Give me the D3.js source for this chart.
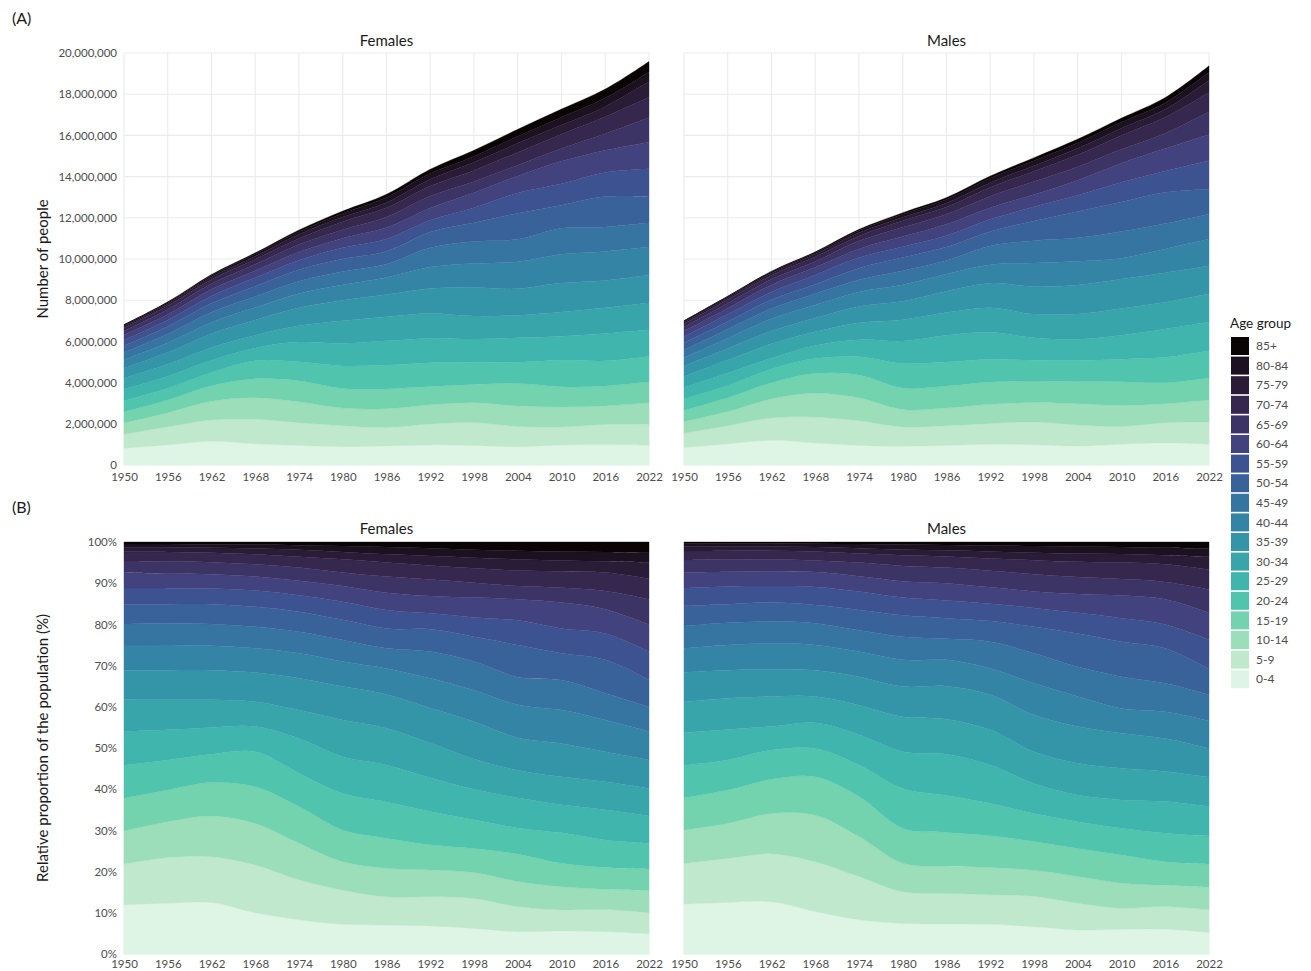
<!DOCTYPE html>
<html>
<head>
<meta charset="utf-8">
<script src="https://cdn.jsdelivr.net/npm/d3@7"></script>
<style>
  body { margin: 0; background: #fff; }
  text { font-family: Lato, "Open Sans", sans-serif; }
</style>
</head>
<body>
<svg id="chart" width="1311" height="971"></svg>
<script>
// Population by five-year age group, 1950-2022 (sampled every six years)
const years = [1950, 1956, 1962, 1968, 1974, 1980, 1986, 1992, 1998, 2004, 2010, 2016, 2022];
const ageGroups = ["0-4", "5-9", "10-14", "15-19", "20-24", "25-29", "30-34", "35-39", "40-44",
                   "45-49", "50-54", "55-59", "60-64", "65-69", "70-74", "75-79", "80-84", "85+"];

// Total population, millions
const femaleTotal = [6.82, 7.92, 9.25, 10.30, 11.41, 12.33, 13.14, 14.36, 15.28, 16.30, 17.28, 18.25, 19.59];
const maleTotal   = [7.01, 8.20, 9.41, 10.35, 11.44, 12.25, 12.98, 14.03, 14.92, 15.82, 16.84, 17.84, 19.38];

// Share of each age group in the total (%), one row per age group, one column per year
const femaleShare = [
  [11.9, 12.3, 12.5, 10.0, 8.3, 7.2, 7.0, 6.8, 6.2, 5.4, 5.6, 5.4, 4.9],
  [9.9, 11.1, 11.1, 11.6, 9.7, 8.3, 6.9, 7.1, 7.3, 6.1, 5.1, 5.4, 5.1],
  [8.1, 8.7, 9.9, 10.1, 8.9, 6.9, 6.9, 6.5, 6.3, 6.1, 5.6, 4.9, 5.4],
  [7.9, 7.7, 8.1, 8.9, 8.9, 7.7, 7.3, 6.1, 5.8, 6.7, 5.7, 5.3, 5.2],
  [8.0, 7.3, 6.9, 8.5, 8.1, 8.9, 8.8, 8.1, 7.0, 6.3, 7.4, 6.7, 6.3],
  [8.2, 7.3, 6.5, 6.1, 8.4, 8.9, 9.0, 8.2, 7.4, 7.3, 6.8, 7.3, 6.6],
  [7.8, 7.3, 6.7, 6.0, 6.9, 8.9, 8.9, 8.4, 7.3, 6.7, 6.8, 6.8, 6.7],
  [7.1, 7.2, 7.2, 7.1, 7.7, 8.1, 8.2, 8.5, 9.1, 7.9, 8.1, 7.3, 6.9],
  [6.1, 6.1, 5.9, 5.9, 6.1, 6.1, 6.3, 7.2, 7.6, 8.0, 8.1, 7.7, 6.9],
  [5.1, 5.3, 5.3, 5.2, 5.2, 5.2, 4.9, 6.5, 7.0, 6.7, 7.3, 6.5, 6.0],
  [4.8, 4.6, 4.8, 4.9, 4.9, 4.9, 4.8, 5.4, 6.0, 7.8, 6.5, 8.1, 6.5],
  [3.9, 3.9, 3.8, 3.9, 4.0, 4.4, 4.5, 3.9, 4.7, 6.0, 6.0, 6.4, 6.9],
  [3.8, 3.5, 3.5, 3.4, 3.5, 3.8, 4.2, 4.2, 4.8, 5.1, 6.3, 5.9, 6.6],
  [2.8, 3.0, 2.9, 3.0, 3.2, 3.3, 3.9, 4.0, 3.6, 3.2, 3.6, 4.4, 6.1],
  [2.2, 2.3, 2.3, 2.4, 2.6, 3.2, 3.4, 3.4, 3.5, 3.8, 4.0, 4.5, 5.0],
  [1.1, 1.1, 1.2, 1.4, 1.7, 1.8, 2.0, 2.3, 2.6, 2.7, 2.6, 2.7, 3.9],
  [0.8, 0.8, 0.8, 1.0, 1.1, 1.4, 1.8, 1.9, 1.9, 2.1, 2.2, 2.3, 2.4],
  [0.5, 0.5, 0.6, 0.6, 0.8, 1.0, 1.2, 1.5, 1.9, 2.1, 2.3, 2.4, 2.6]
];
const maleShare = [
  [12.1, 12.5, 12.7, 10.3, 8.3, 7.4, 7.3, 7.2, 6.6, 5.8, 6.0, 6.0, 5.2],
  [9.9, 10.7, 11.6, 12.1, 10.5, 7.7, 7.4, 7.2, 7.4, 6.5, 5.1, 5.5, 5.5],
  [8.1, 8.5, 9.8, 11.3, 9.7, 6.9, 6.6, 6.6, 6.3, 6.5, 6.1, 5.2, 5.5],
  [7.8, 8.1, 8.3, 9.3, 9.7, 8.5, 8.2, 7.7, 7.0, 6.8, 6.8, 5.7, 5.6],
  [7.9, 7.3, 7.1, 6.9, 7.7, 9.7, 9.0, 7.9, 6.8, 6.5, 6.5, 6.9, 6.8],
  [7.9, 7.4, 5.7, 6.2, 7.3, 8.9, 10.0, 9.3, 7.3, 6.5, 6.9, 7.7, 7.2],
  [7.5, 7.6, 7.3, 6.4, 7.2, 8.5, 8.5, 8.5, 7.7, 7.7, 7.7, 7.3, 7.1],
  [7.2, 6.8, 6.6, 6.4, 6.9, 7.3, 8.0, 8.5, 8.9, 8.9, 8.5, 8.0, 7.0],
  [5.8, 6.1, 6.3, 6.1, 6.1, 6.5, 6.4, 6.4, 7.7, 7.3, 6.0, 6.5, 6.7],
  [5.4, 5.4, 5.3, 5.3, 5.2, 5.6, 5.1, 6.5, 7.3, 7.2, 7.7, 6.9, 6.3],
  [4.9, 4.5, 4.6, 4.4, 4.9, 5.2, 5.0, 5.0, 6.4, 8.1, 8.5, 8.5, 6.2],
  [4.3, 4.3, 4.0, 4.4, 4.5, 4.3, 4.3, 4.2, 4.6, 5.0, 5.7, 5.8, 7.2],
  [3.8, 3.6, 3.6, 3.6, 3.7, 4.0, 4.2, 4.0, 4.0, 4.6, 5.5, 6.1, 6.5],
  [3.0, 3.0, 2.9, 2.8, 3.3, 3.7, 3.8, 4.0, 4.2, 4.1, 4.0, 4.2, 5.7],
  [2.2, 2.1, 2.1, 2.2, 2.2, 2.6, 2.7, 3.0, 3.4, 3.7, 4.0, 4.3, 4.8],
  [1.1, 1.0, 1.0, 1.1, 1.3, 1.4, 1.5, 1.7, 1.8, 2.0, 2.1, 2.2, 3.1],
  [0.8, 0.8, 0.8, 0.8, 1.0, 1.2, 1.3, 1.5, 1.6, 1.7, 1.7, 1.8, 2.0],
  [0.3, 0.3, 0.3, 0.4, 0.5, 0.6, 0.7, 0.8, 1.0, 1.1, 1.2, 1.4, 1.6]
];

// Axis ticks
const xTickYears = [1950, 1956, 1962, 1968, 1974, 1980, 1986, 1992, 1998, 2004, 2010, 2016, 2022];
const countTicks = [0, 2e6, 4e6, 6e6, 8e6, 10e6, 12e6, 14e6, 16e6, 18e6, 20e6];
const pctTicks = [0, 0.1, 0.2, 0.3, 0.4, 0.5, 0.6, 0.7, 0.8, 0.9, 1];

// Mako-style palette, youngest (light) to oldest (dark)
const palette = ["#def5e5", "#bfe8cd", "#9cdeb9", "#72d3ae", "#50c4ad", "#3fb5ad", "#37a5aa",
                 "#3495a8", "#3485a5", "#3674a1", "#39629b", "#3d5290", "#41427e", "#3d3466",
                 "#35274e", "#2a1b36", "#1b1120", "#0b0405"];
const color = d3.scaleOrdinal().domain(ageGroups).range(palette);

// Rows of absolute counts per year
function buildRows(share, total) {
  return years.map((yr, i) => {
    const row = { year: yr };
    ageGroups.forEach((g, j) => { row[g] = share[j][i] / 100 * total[i] * 1e6; });
    return row;
  });
}
const femaleRows = buildRows(femaleShare, femaleTotal);
const maleRows = buildRows(maleShare, maleTotal);

const svg = d3.select("#chart");
const gridColor = "#ebebeb";
const tickColor = "#4d4d4d";
const tickFont = "Lato, 'Open Sans', sans-serif";

const columns = [
  { title: "Females", rows: femaleRows, x0: 124, x1: 649, showY: true },
  { title: "Males", rows: maleRows, x0: 684, x1: 1209, showY: false }
];
const rowsLayout = [
  { tag: "(A)", tagY: 24, top: 53, bottom: 465, titleY: 46, expand: false, xPad: 8 },
  { tag: "(B)", tagY: 513, top: 542, bottom: 954, titleY: 534, expand: true, xPad: 6 }
];

rowsLayout.forEach(R => {
  svg.append("text").attr("x", 12).attr("y", R.tagY)
    .attr("font-size", 16).attr("fill", "#1a1a1a").text(R.tag);

  columns.forEach(C => {
    const x = d3.scaleLinear().domain([1950, 2022]).range([C.x0, C.x1]);
    const y = R.expand
      ? d3.scaleLinear().domain([0, 1]).range([R.bottom, R.top])
      : d3.scaleLinear().domain([0, 20e6]).range([R.bottom, R.top]);
    const yTicks = R.expand ? pctTicks : countTicks;

    const g = svg.append("g");

    // grid
    g.append("g").selectAll("line").data(xTickYears).join("line")
      .attr("x1", d => x(d)).attr("x2", d => x(d))
      .attr("y1", R.top).attr("y2", R.bottom)
      .attr("stroke", gridColor).attr("stroke-width", 1.1);
    g.append("g").selectAll("line").data(yTicks).join("line")
      .attr("x1", C.x0).attr("x2", C.x1)
      .attr("y1", d => y(d)).attr("y2", d => y(d))
      .attr("stroke", gridColor).attr("stroke-width", 1.1);

    // stacked areas
    const stack = d3.stack().keys(ageGroups);
    if (R.expand) stack.offset(d3.stackOffsetExpand);
    const series = stack(C.rows);
    const area = d3.area()
      .x(d => x(d.data.year))
      .y0(d => y(d[0]))
      .y1(d => y(d[1]))
      .curve(d3.curveCatmullRom.alpha(0.5));
    g.append("g").selectAll("path").data(series).join("path")
      .attr("fill", d => color(d.key))
      .attr("stroke", d => color(d.key))
      .attr("stroke-width", 0.3)
      .attr("d", area);

    // axes
    if (C.showY) {
      const yAxis = d3.axisLeft(y).tickValues(yTicks).tickSize(0).tickPadding(7)
        .tickFormat(R.expand ? d3.format(".0%") : d3.format(","));
      const ya = g.append("g").attr("transform", `translate(${C.x0},0)`).call(yAxis);
      ya.select(".domain").remove();
      ya.selectAll("text").attr("font-size", 11.5).attr("fill", tickColor)
        .attr("font-family", tickFont);
    }
    const xAxis = d3.axisBottom(x).tickValues(xTickYears).tickSize(0).tickPadding(R.xPad)
      .tickFormat(d3.format("d"));
    const xa = g.append("g").attr("transform", `translate(0,${R.bottom})`).call(xAxis);
    xa.select(".domain").remove();
    xa.selectAll("text").attr("font-size", 11.5).attr("fill", tickColor)
      .attr("font-family", tickFont);

    // panel title
    svg.append("text").attr("x", (C.x0 + C.x1) / 2).attr("y", R.titleY)
      .attr("text-anchor", "middle").attr("font-size", 15).attr("fill", "#1a1a1a")
      .text(C.title);
  });

  // y axis title
  const midY = (R.top + R.bottom) / 2;
  svg.append("text")
    .attr("transform", `translate(48,${midY}) rotate(-90)`)
    .attr("text-anchor", "middle").attr("font-size", 15).attr("fill", "#1a1a1a")
    .text(R.expand ? "Relative proportion of the population (%)" : "Number of people");
});

// legend
const legend = svg.append("g").attr("transform", "translate(1230,0)");
legend.append("text").attr("x", 0).attr("y", 328).attr("font-size", 13.5)
  .attr("fill", "#1a1a1a").text("Age group");
const legendItems = ageGroups.slice().reverse();
const step = 19.6;
legendItems.forEach((gName, i) => {
  const yy = 337 + i * step;
  legend.append("rect").attr("x", 1).attr("y", yy).attr("width", 18).attr("height", 18)
    .attr("fill", color(gName));
  legend.append("text").attr("x", 26).attr("y", yy + 9).attr("dy", "0.35em")
    .attr("font-size", 12).attr("fill", tickColor).text(gName);
});
</script>
</body>
</html>
